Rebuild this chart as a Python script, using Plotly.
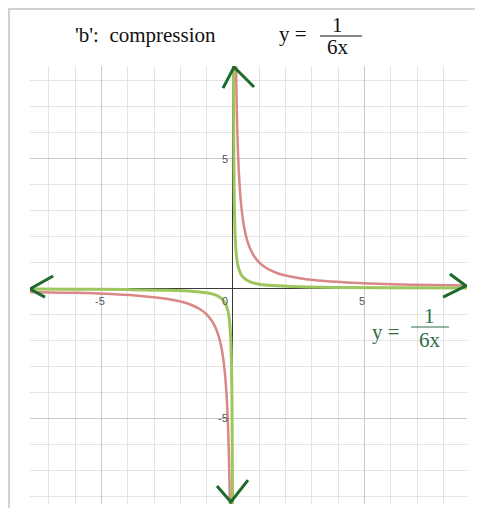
import plotly.graph_objects as go

# ---- data ----
# parent curve y = 1/x (red)
red_pos_x = [0.117, 0.125, 0.14, 0.16, 0.18, 0.2, 0.23, 0.26, 0.3, 0.35, 0.4, 0.47, 0.55,
             0.65, 0.8, 1.0, 1.25, 1.6, 2.0, 2.6, 3.5, 4.5, 6.0, 7.5, 9.0]
red_pos_y = [8.55, 8.0, 7.14, 6.25, 5.56, 5.0, 4.35, 3.85, 3.33, 2.86, 2.5, 2.13, 1.82,
             1.54, 1.25, 1.0, 0.8, 0.625, 0.5, 0.385, 0.286, 0.222, 0.167, 0.133, 0.111]
red_neg_x = [-7.8, -6.0, -4.5, -3.5, -2.6, -2.0, -1.6, -1.25, -1.0, -0.8, -0.65, -0.55, -0.47,
             -0.4, -0.35, -0.3, -0.26, -0.23, -0.2, -0.18, -0.16, -0.14, -0.125, -0.117, -0.11]
red_neg_y = [-0.128, -0.167, -0.222, -0.286, -0.385, -0.5, -0.625, -0.8, -1.0, -1.25, -1.54, -1.82, -2.13,
             -2.5, -2.86, -3.33, -3.85, -4.35, -5.0, -5.56, -6.25, -7.14, -8.0, -8.55, -9.09]

# compressed curve y = 1/(6x) (green)
green_pos_x = [0.0195, 0.021, 0.023, 0.026, 0.03, 0.035, 0.04, 0.047, 0.055, 0.065, 0.08, 0.1,
               0.125, 0.16, 0.2, 0.26, 0.35, 0.5, 0.7, 1.0, 1.5, 2.5, 4.0, 6.0, 9.0]
green_pos_y = [8.55, 7.94, 7.25, 6.41, 5.56, 4.76, 4.17, 3.55, 3.03, 2.56, 2.08, 1.67,
               1.33, 1.04, 0.833, 0.641, 0.476, 0.333, 0.238, 0.167, 0.111, 0.0667, 0.0417, 0.0278, 0.0185]
green_neg_x = [-7.8, -6.0, -4.0, -2.5, -1.5, -1.0, -0.7, -0.5, -0.35, -0.26, -0.2, -0.16, -0.125,
               -0.1, -0.08, -0.065, -0.055, -0.047, -0.04, -0.035, -0.03, -0.026, -0.023, -0.021, -0.019]
green_neg_y = [-0.0214, -0.0278, -0.0417, -0.0667, -0.111, -0.167, -0.238, -0.333, -0.476, -0.641, -0.833, -1.04, -1.33,
               -1.67, -2.08, -2.56, -3.03, -3.55, -4.17, -4.76, -5.56, -6.41, -7.25, -7.94, -8.77]

x_tick_labels = [(-5, "-5"), (0, "0"), (5, "5")]
y_tick_labels = [(5, "5"), (-5, "-5")]

title_text = "'b':\u00a0\u00a0compression"
eq_lhs = "y ="
eq_num = "1"
eq_den = "6x"

x_range = [-7.72, 8.9]
y_range = [-8.29, 8.56]

RED = "#da8787"
GREEN = "#9dc65f"
ARROW = "#1d6a2c"
LABEL_GREEN = "#2d6e44"

fig = go.Figure()
for xs, ys in [(red_neg_x, red_neg_y), (red_pos_x, red_pos_y)]:
    fig.add_trace(go.Scatter(x=xs, y=ys, mode="lines", line=dict(color=RED, width=2.5, shape="spline"),
                             hoverinfo="skip", showlegend=False))
for xs, ys in [(green_neg_x, green_neg_y), (green_pos_x, green_pos_y)]:
    fig.add_trace(go.Scatter(x=xs, y=ys, mode="lines", line=dict(color=GREEN, width=3, shape="spline"),
                             hoverinfo="skip", showlegend=False))

axis_common = dict(
    dtick=5, tick0=0, showgrid=True, gridcolor="#c9c9c9", gridwidth=1,
    minor=dict(dtick=1, tick0=0, showgrid=True, gridcolor="#e4e4e4", gridwidth=1),
    zeroline=True, zerolinecolor="#3a3a3a", zerolinewidth=1,
    showticklabels=False, ticks="", showline=False, fixedrange=True,
)
fig.update_xaxes(range=x_range, **axis_common)
fig.update_yaxes(range=y_range, **axis_common)

annotations = []
tick_font = dict(family="Liberation Sans, Arial, sans-serif", size=11, color="#555555")
for v, t in x_tick_labels:
    annotations.append(dict(x=v, y=0, xref="x", yref="y", text=t, showarrow=False,
                            xanchor="center" if v != 0 else "right", yanchor="top",
                            xshift=-2 if v != 0 else -3, yshift=-4, font=tick_font))
for v, t in y_tick_labels:
    annotations.append(dict(x=0, y=v, xref="x", yref="y", text=t, showarrow=False,
                            xanchor="right", yanchor="middle", xshift=-3, font=tick_font))

serif = dict(family="Liberation Serif, Times New Roman, serif", size=21, color="#111111")
serif_g = dict(family="Liberation Serif, Times New Roman, serif", size=21, color=LABEL_GREEN)

# title line
annotations += [
    dict(x=0.098, y=1.0708, xref="paper", yref="paper", text=title_text, showarrow=False,
         xanchor="left", yanchor="middle", font=serif),
    dict(x=0.565, y=1.073, xref="paper", yref="paper", text=eq_lhs, showarrow=False,
         xanchor="left", yanchor="middle", font=serif),
    dict(x=0.7048, y=1.093, xref="paper", yref="paper", text=eq_num, showarrow=False,
         xanchor="center", yanchor="middle", font=serif),
    dict(x=0.7048, y=1.043, xref="paper", yref="paper", text=eq_den, showarrow=False,
         xanchor="center", yanchor="middle", font=serif),
    # green label
    dict(x=0.778, y=0.3927, xref="paper", yref="paper", text=eq_lhs, showarrow=False,
         xanchor="left", yanchor="middle", font=serif_g),
    dict(x=0.9153, y=0.4285, xref="paper", yref="paper", text=eq_num, showarrow=False,
         xanchor="center", yanchor="middle", font=serif_g),
    dict(x=0.9153, y=0.374, xref="paper", yref="paper", text=eq_den, showarrow=False,
         xanchor="center", yanchor="middle", font=serif_g),
]

shapes = []
# frame around the picture
shapes.append(dict(type="rect", xref="paper", yref="paper", x0=-0.048, x1=1.3, y0=-0.2, y1=1.130,
                   line=dict(color="#d2d2d2", width=2), layer="below"))
# fraction bars
shapes.append(dict(type="line", xref="paper", yref="paper", x0=0.6636, x1=0.7597, y0=1.0685, y1=1.0685,
                   line=dict(color="#111111", width=1)))
shapes.append(dict(type="line", xref="paper", yref="paper", x0=0.8719, x1=0.9588, y0=0.4041, y1=0.4041,
                   line=dict(color=LABEL_GREEN, width=1)))

# hand-drawn arrow heads at the ends of the axes (relative to axis range ends)
x0r, x1r = x_range
y0r, y1r = y_range
arrows = [
    [(x0r + 0.88, 0.48), (x0r, -0.02), (x0r + 0.57, -0.33)],
    [(x1r - 0.65, 0.56), (x1r - 0.04, 0.10), (x1r - 0.91, -0.33)],
    [(-0.38, y1r - 0.85), (0.04, y1r - 0.04), (0.80, y1r - 0.81)],
    [(-0.61, y0r + 0.69), (-0.08, y0r + 0.08), (0.57, y0r + 0.92)],
]
for pts in arrows:
    path = "M {} {} L {} {} L {} {}".format(*[c for p in pts for c in p])
    shapes.append(dict(type="path", xref="x", yref="y", path=path,
                       line=dict(color=ARROW, width=3)))

fig.update_layout(
    width=475, height=500,
    margin=dict(l=22, r=16, t=58, b=4),
    plot_bgcolor="white", paper_bgcolor="white",
    annotations=annotations, shapes=shapes, showlegend=False,
)

fig.write_html("out.html", config=dict(displayModeBar=False))
